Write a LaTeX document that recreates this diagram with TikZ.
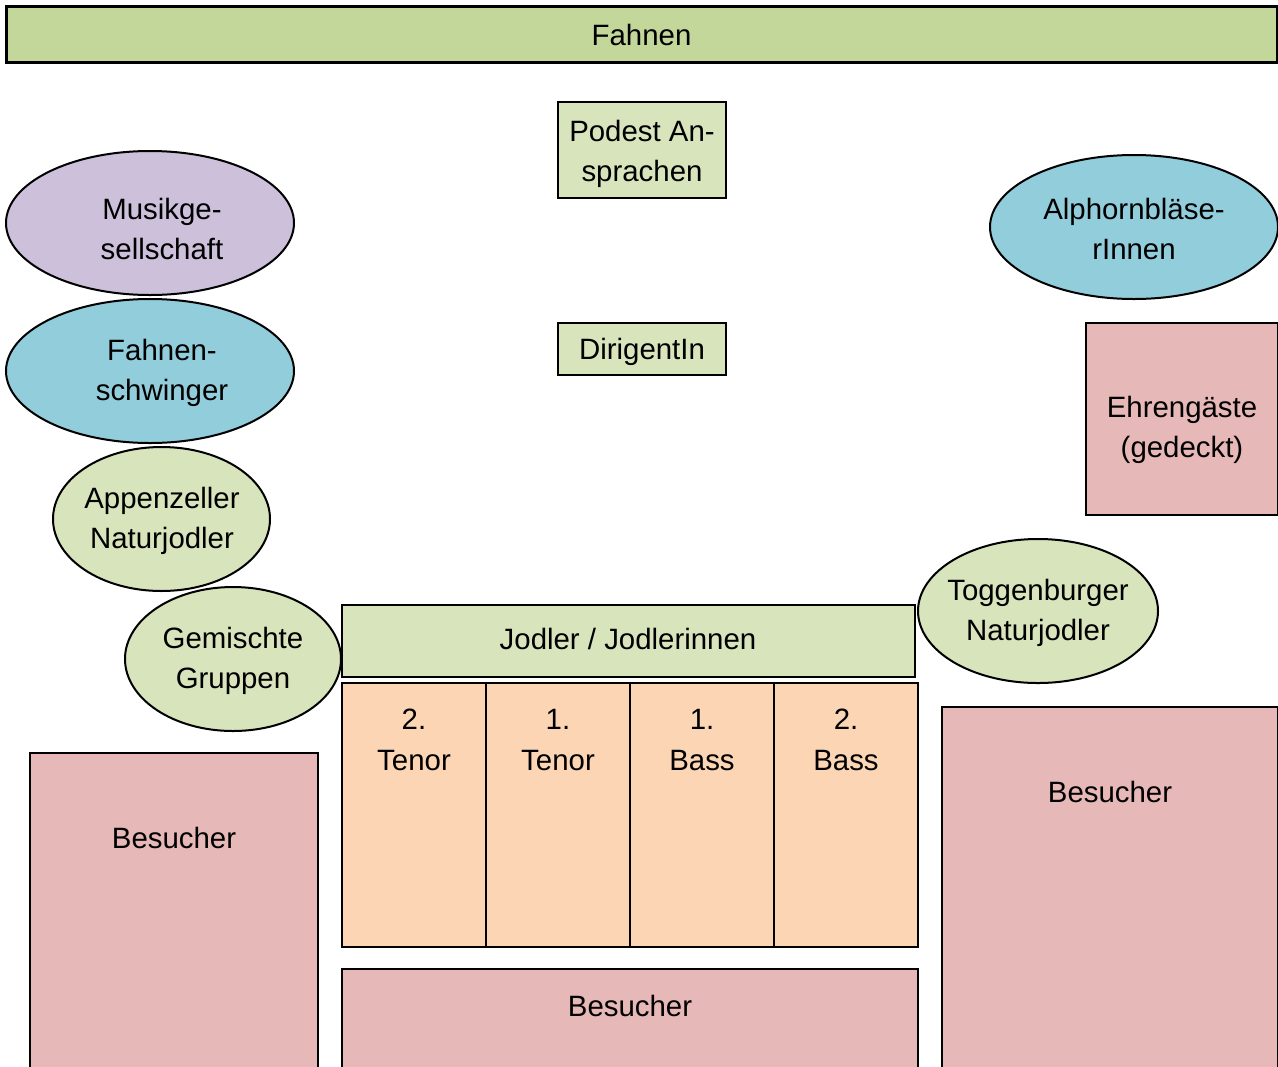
\documentclass[tikz,border=0pt]{standalone}
\usepackage{fontspec}
\setmainfont{Liberation Sans}
\definecolor{fahnengruen}{HTML}{C4D79B}
\definecolor{hellgruen}{HTML}{D8E4BC}
\definecolor{lila}{HTML}{CCC0DA}
\definecolor{blau}{HTML}{92CDDC}
\definecolor{rosa}{HTML}{E6B8B7}
\definecolor{orange}{HTML}{FCD5B4}
\tikzset{platz/.style={draw=black,line width=1pt},
  txt/.style={font=\fontsize{14.7}{20.3}\selectfont,align=center,inner sep=0pt}}
\begin{document}
\begin{tikzpicture}[x=0.5pt,y=-0.5pt]
\useasboundingbox(0,0)rectangle(1278,1066);
\clip(0,0)rectangle(1278,1066);
\draw[platz,fill=fahnengruen,line width=1.5pt](6,6)rectangle(1277,62);
\draw[platz,fill=hellgruen](558,102)rectangle(726,198);
\draw[platz,fill=hellgruen](558,323)rectangle(726,375);
\draw[platz,fill=lila](150,223)ellipse[x radius=144,y radius=72];
\draw[platz,fill=blau](150,371)ellipse[x radius=144,y radius=72];
\draw[platz,fill=hellgruen](161.5,519)ellipse[x radius=108.5,y radius=72];
\draw[platz,fill=hellgruen](233,659)ellipse[x radius=108,y radius=72];
\draw[platz,fill=blau](1134,227)ellipse[x radius=144,y radius=72];
\draw[platz,fill=rosa](1086,323)rectangle(1278,515);
\draw[platz,fill=hellgruen](1038,611)ellipse[x radius=120,y radius=72];
\draw[platz,fill=hellgruen](342,605)rectangle(915,677);
\draw[platz,fill=orange](342,683)rectangle(918,947);
\draw[platz](486,683)--(486,947)(630,683)--(630,947)(774,683)--(774,947);
\draw[platz,fill=rosa](30,753)rectangle(318,1080);
\draw[platz,fill=rosa](342,969)rectangle(918,1080);
\draw[platz,fill=rosa](942,707)rectangle(1278,1080);
\node[txt](fahnen)at(641.5,35){Fahnen};
\node[txt](podest)at(642,154){Podest An-\\sprachen};
\node[txt](dirigent)at(642,352){DirigentIn};
\node[txt](musik)at(162,229){Musikge-\\sellschaft};
\node[txt](schwinger)at(162,373){Fahnen-\\schwinger};
\node[txt](appenzell)at(162,521){Appenzeller\\Naturjodler};
\node[txt](gemischt)at(233,661){Gemischte\\Gruppen};
\node[txt](alphorn)at(1134,229){Alphornbläse-\\rInnen};
\node[txt](ehren)at(1182,430){Ehrengäste\\(gedeckt)};
\node[txt](toggenburg)at(1038,613){Toggenburger\\Naturjodler};
\node[txt](jodler)at(628,639){Jodler / Jodlerinnen};
\node[txt](tenorb)at(414,740){2.\\Tenor};
\node[txt](tenora)at(558,740){1.\\Tenor};
\node[txt](bassa)at(702,740){1.\\Bass};
\node[txt](bassb)at(846,740){2.\\Bass};
\node[txt](besucherl)at(174,838){Besucher};
\node[txt](besucheru)at(630,1006){Besucher};
\node[txt](besucherr)at(1110,792){Besucher};
\end{tikzpicture}
\end{document}
